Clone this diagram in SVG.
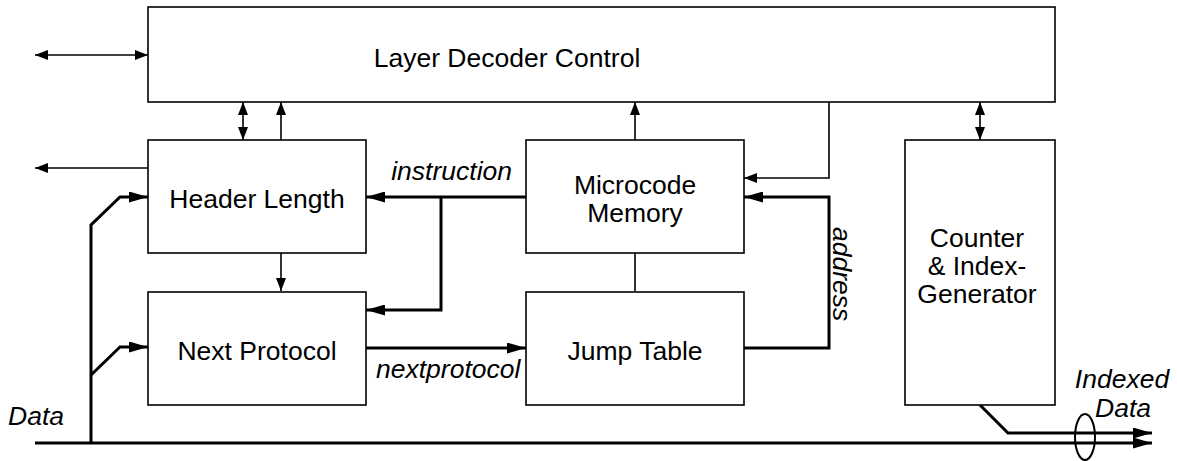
<svg xmlns="http://www.w3.org/2000/svg" width="1177" height="461" viewBox="0 0 1177 461">
<style>
.box{fill:#fff;stroke:#000;stroke-width:1.6}
.lbl{font-family:"Liberation Sans",Arial,sans-serif;font-size:26.5px;fill:#000;text-anchor:middle}
.it{font-family:"Liberation Sans",Arial,sans-serif;font-size:26.5px;font-style:italic;fill:#000}
.thin{fill:none;stroke:#000;stroke-width:1.6}
.thick{fill:none;stroke:#000;stroke-width:3}
</style>
<defs>
<marker id="as" markerUnits="userSpaceOnUse" markerWidth="14" markerHeight="10" refX="13" refY="5" orient="auto-start-reverse"><path d="M0,0 L13,5 L0,10 z" fill="#000"/></marker>
<marker id="al" markerUnits="userSpaceOnUse" markerWidth="20" markerHeight="11" refX="19" refY="5.5" orient="auto-start-reverse"><path d="M0,0 L19,5.5 L0,11 z" fill="#000"/></marker>
</defs>
<rect x="0" y="0" width="1177" height="461" fill="#fff"/>
<g id="connectors">
<line class="thin" x1="35" y1="55" x2="148" y2="55" marker-start="url(#as)" marker-end="url(#as)"/>
<line class="thin" x1="243" y1="102" x2="243" y2="140" marker-start="url(#as)" marker-end="url(#as)"/>
<line class="thin" x1="281" y1="140" x2="281" y2="102" marker-end="url(#as)"/>
<line class="thin" x1="148" y1="168" x2="35" y2="168" marker-end="url(#as)"/>
<line class="thin" x1="281" y1="253" x2="281" y2="291" marker-end="url(#as)"/>
<line class="thin" x1="635" y1="140" x2="635" y2="102" marker-end="url(#as)"/>
<line class="thin" x1="635" y1="253" x2="635" y2="291"/>
<polyline class="thin" points="829,102 829,178 744,178" marker-end="url(#as)"/>
<line class="thin" x1="980" y1="102" x2="980" y2="140" marker-start="url(#as)" marker-end="url(#as)"/>
<polyline class="thick" points="91,443 91,225 120,197 148,197" marker-end="url(#al)"/>
<polyline class="thick" points="91,375 120,347 148,347" marker-end="url(#al)"/>
<line class="thick" x1="526" y1="197" x2="366" y2="197" marker-end="url(#al)"/>
<polyline class="thick" points="441,197 441,310 366,310" marker-end="url(#al)"/>
<line class="thick" x1="366" y1="348" x2="526" y2="348" marker-end="url(#al)"/>
<polyline class="thick" points="744,348 829,348 829,197 744,197" marker-end="url(#al)"/>
<line class="thick" x1="35" y1="443" x2="1152" y2="443" marker-end="url(#al)"/>
<polyline class="thick" points="980,405 1008,433 1152,433" marker-end="url(#al)"/>
<ellipse cx="1085" cy="437" rx="10" ry="23" fill="none" stroke="#000" stroke-width="2"/>
<text class="it" x="512" y="180" text-anchor="end">instruction</text>
<text class="it" x="376" y="378">nextprotocol</text>
<text class="it" transform="translate(833,227) rotate(90)">address</text>
<text class="it" x="8" y="425">Data</text>
<text class="it" x="1122" y="388" text-anchor="middle">Indexed</text>
<text class="it" x="1123" y="417" text-anchor="middle">Data</text>
</g>
<g id="ldc"><rect class="box" x="148" y="7" width="907" height="95"/><text class="lbl" x="507" y="67">Layer Decoder Control</text></g>
<g id="header"><rect class="box" x="148" y="140" width="218" height="113"/><text class="lbl" x="257" y="208">Header Length</text></g>
<g id="nextproto"><rect class="box" x="148" y="292" width="218" height="113"/><text class="lbl" x="257" y="360">Next Protocol</text></g>
<g id="microcode"><rect class="box" x="526" y="140" width="218" height="113"/><text class="lbl" x="635" y="194">Microcode</text><text class="lbl" x="635" y="222">Memory</text></g>
<g id="jumptable"><rect class="box" x="526" y="292" width="218" height="113"/><text class="lbl" x="635" y="360">Jump Table</text></g>
<g id="counter"><rect class="box" x="905" y="140" width="150" height="265"/><text class="lbl" x="977" y="247">Counter</text><text class="lbl" x="977" y="275">&amp; Index-</text><text class="lbl" x="977" y="303">Generator</text></g>
</svg>
